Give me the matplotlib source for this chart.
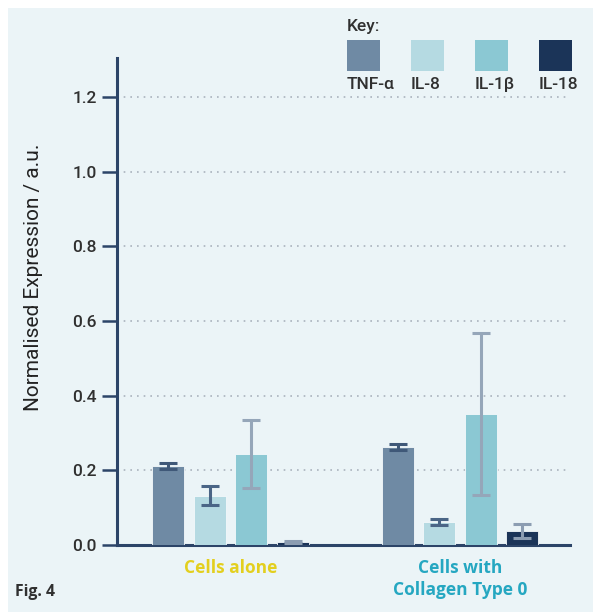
import matplotlib
matplotlib.use('Agg')
import matplotlib.pyplot as plt
from matplotlib.patches import Rectangle
import numpy as np

# data
groups = ['Cells alone', 'Cells with\nCollagen Type 0']
group_colors = ['#e3cf1e', '#25a7c1']
genes = ['TNF-α', 'IL-8', 'IL-1β', 'IL-18']
gene_colors = ['#6f8aa4', '#b5dae2', '#8bc8d3', '#1b3458']
err_colors = ['#3f5878', '#4a6586', '#95a6b9', '#8c9db2']

tnf = [0.212, 0.263]
il8 = [0.132, 0.062]
il1b = [0.244, 0.352]
il18 = [0.009, 0.038]

tnf_err = [0.008, 0.008]
il8_err = [0.026, 0.009]
il1b_err = [0.090, 0.217]
il18_err = [0.003, 0.018]

values = [tnf, il8, il1b, il18]
errors = [tnf_err, il8_err, il1b_err, il18_err]

W, H = 593, 612
bg = '#ebf4f7'
navy = '#2c4468'
txt = '#303030'

fig = plt.figure(figsize=(W / 100, H / 100), dpi=100)
fig.patch.set_facecolor('white')
fig.add_artist(Rectangle((8 / W, 0), 1, 1 - 8 / H, transform=fig.transFigure,
                         facecolor=bg, edgecolor='none', zorder=-10))

ax = fig.add_axes([117 / W, 1 - 545 / H, (570 - 117) / W, (545 - 58) / H])
ax.patch.set_alpha(0)

x = np.arange(len(groups))
offs = 41.5 / 229.5
bw = 32 / 229.5
for i in range(len(genes)):
    pos = x + (i - 1.5) * offs
    ax.bar(pos, values[i], bw, color=gene_colors[i], edgecolor='#f4f9fb',
           linewidth=0.6, zorder=3)
    ax.errorbar(pos, values[i], yerr=errors[i], fmt='none', ecolor=err_colors[i],
                elinewidth=2.2, capsize=6.5, capthick=2.2, zorder=4)

ax.set_xlim(-0.4946, 1.479)
ax.set_ylim(0, 1.305)
ax.set_yticks([0, 0.2, 0.4, 0.6, 0.8, 1.0, 1.2])
ax.set_yticklabels(['0.0', '0.2', '0.4', '0.6', '0.8', '1.0', '1.2'],
                   fontfamily='Roboto', fontsize=12.5, fontweight='medium', color=txt)
for yv in [0.2, 0.4, 0.6, 0.8, 1.0, 1.2]:
    ax.axhline(yv, color='#a9b3bd', lw=1.2, ls=(0, (1, 3)), zorder=1)
ax.set_xticks([])
for s in ['top', 'right']:
    ax.spines[s].set_visible(False)
for s in ['left', 'bottom']:
    ax.spines[s].set_color(navy)
    ax.spines[s].set_linewidth(2.2)
ax.tick_params(axis='y', length=11, width=1.8, color=navy, pad=3.5)
ax.set_ylabel('Normalised Expression / a.u.', fontfamily='Roboto', fontsize=15,
              color='#222222')
ax.yaxis.set_label_coords(-0.163, 0.55)

# group labels
for g, c, xv in zip(groups, group_colors, x):
    ax.text(xv, -0.038, g, ha='center', va='top', fontfamily='Open Sans',
            fontweight='bold', fontsize=12.5, color=c, linespacing=1.25)

# key
fig.text(347 / W, 1 - 26 / H, 'Key:', fontfamily='Roboto', fontsize=12.5,
         fontweight='medium', color=txt, va='center')
for i, g in enumerate(genes):
    x0 = 347 + i * 64
    fig.add_artist(Rectangle((x0 / W, 1 - 71 / H), 33 / W, 31 / H,
                             transform=fig.transFigure, facecolor=gene_colors[i],
                             edgecolor='none'))
    fig.text(x0 / W, 1 - 89 / H, g, fontfamily='Roboto', fontsize=12.5,
             fontweight='medium', color=txt, va='baseline', ha='left')

fig.text(15 / W, 1 - 592 / H, 'Fig. 4', fontfamily='Open Sans', fontweight='bold',
         fontsize=11.3, color=txt, va='center')

fig.savefig('out.png', dpi=100, facecolor='white')
